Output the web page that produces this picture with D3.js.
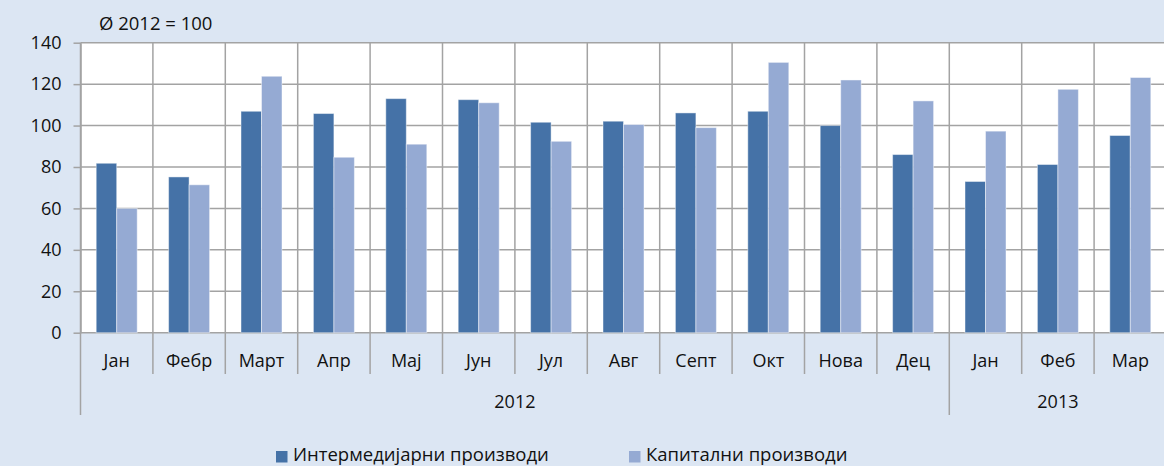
<!DOCTYPE html>
<html>
<head>
<meta charset="utf-8">
<script src="https://cdn.jsdelivr.net/npm/d3@7"></script>
<style>
  body { margin: 0; background: #dce6f3; }
  svg { display: block; font-family: "Open Sans", "Noto Sans", sans-serif; }
</style>
</head>
<body>
<svg id="chart"></svg>
<script>
// months on the x axis (two year groups)
var months = ["Јан", "Фебр", "Март", "Апр", "Мај", "Јун", "Јул", "Авг", "Септ", "Окт", "Нова", "Дец", "Јан", "Феб", "Мар"];
var yearLabels = ["2012", "2013"];
var yearSpans = [12, 3];

var seriesNames = ["Интермедијарни производи", "Капитални производи"];
var intermediate = [81.8, 75.2, 106.9, 105.8, 113, 112.5, 101.6, 102.1, 106.1, 106.9, 100, 86, 73, 81.2, 95.2];
var capital = [60, 71.4, 123.8, 84.7, 91, 111, 92.4, 100.5, 99, 130.5, 122, 111.9, 97.3, 117.5, 123.2];

var yTicks = [0, 20, 40, 60, 80, 100, 120, 140];
var subtitle = "Ø 2012 = 100";

var colors = ["#4572a7", "#95aad3"];
var gridColor = "#a3a3a3";

var screen = {width: 1164, height: 466};
var plot = {left: 80.5, right: 1166.5, top: 42.7, bottom: 332.7};

var svg = d3.select("#chart")
    .attr("width", screen.width)
    .attr("height", screen.height);

svg.append("rect")
    .attr("width", screen.width)
    .attr("height", screen.height)
    .attr("fill", "#dce6f3");

var xScale = d3.scaleBand()
    .domain(d3.range(months.length))
    .range([plot.left, plot.right]);

var xInner = d3.scaleBand()
    .domain([0, 1])
    .range([0, xScale.bandwidth()])
    .paddingOuter(0.766);

var yScale = d3.scaleLinear()
    .domain([0, 140])
    .range([plot.bottom, plot.top]);

// white plot area
svg.append("rect")
    .attr("x", plot.left)
    .attr("y", plot.top)
    .attr("width", plot.right - plot.left)
    .attr("height", plot.bottom - plot.top)
    .attr("fill", "#ffffff");

// horizontal gridlines
svg.append("g")
    .selectAll("line")
    .data(yTicks)
    .enter()
    .append("line")
    .attr("x1", plot.left)
    .attr("x2", plot.right)
    .attr("y1", function(d) { return yScale(d); })
    .attr("y2", function(d) { return yScale(d); })
    .attr("stroke", gridColor)
    .attr("stroke-width", 1.5);

// vertical category separators, longer where a year group starts
var groupStarts = [0];
yearSpans.forEach(function(s, i) { groupStarts.push(groupStarts[i] + s); });

svg.append("g")
    .selectAll("line")
    .data(d3.range(months.length))
    .enter()
    .append("line")
    .attr("x1", function(i) { return xScale(i); })
    .attr("x2", function(i) { return xScale(i); })
    .attr("y1", plot.top)
    .attr("y2", function(i) { return groupStarts.indexOf(i) >= 0 ? 415 : 374; })
    .attr("stroke", gridColor)
    .attr("stroke-width", 1.5);

// bars
var seriesData = [intermediate, capital];
seriesData.forEach(function(values, s)
{
    svg.append("g")
        .selectAll("rect")
        .data(values)
        .enter()
        .append("rect")
        .attr("x", function(v, i) { return xScale(i) + xInner(s); })
        .attr("y", function(v) { return yScale(v); })
        .attr("width", xInner.bandwidth())
        .attr("height", function(v) { return yScale(0) - yScale(v); })
        .attr("fill", colors[s])
        .attr("stroke", "rgba(255,255,255,0.45)")
        .attr("stroke-width", 1);
});

// y axis
var yAxis = svg.append("g")
    .attr("transform", "translate(" + plot.left + ",0)")
    .call(d3.axisLeft(yScale).tickValues(yTicks).tickSize(7).tickPadding(12).tickSizeOuter(0));
yAxis.select(".domain").attr("stroke", gridColor).attr("stroke-width", 1.5);
yAxis.selectAll(".tick line").attr("stroke", gridColor).attr("stroke-width", 1.5);
yAxis.selectAll(".tick text")
    .attr("font-size", 18)
    .attr("font-family", "Open Sans")
    .attr("fill", "#111");

// month labels
svg.append("g")
    .selectAll("text")
    .data(months)
    .enter()
    .append("text")
    .attr("x", function(m, i) { return xScale(i) + xScale.bandwidth() / 2; })
    .attr("y", 361)
    .attr("dy", "0.35em")
    .attr("text-anchor", "middle")
    .attr("font-size", 18)
    .attr("fill", "#111")
    .text(function(m) { return m; });

// year labels
svg.append("g")
    .selectAll("text")
    .data(yearLabels)
    .enter()
    .append("text")
    .attr("x", function(y, i)
    {
        var a = xScale(groupStarts[i]);
        var b = groupStarts[i + 1] < months.length ? xScale(groupStarts[i + 1]) : plot.right;
        return (a + b) / 2;
    })
    .attr("y", 402)
    .attr("dy", "0.35em")
    .attr("text-anchor", "middle")
    .attr("font-size", 18)
    .attr("fill", "#111")
    .text(function(y) { return y; });

// subtitle
svg.append("text")
    .attr("x", 99)
    .attr("y", 24)
    .attr("dy", "0.35em")
    .attr("font-size", 18.5)
    .attr("fill", "#111")
    .text(subtitle);

// legend
var legendX = [276, 629];
var legend = svg.append("g")
    .selectAll("g")
    .data(seriesNames)
    .enter()
    .append("g")
    .attr("transform", function(d, i) { return "translate(" + legendX[i] + ",455)"; });

legend.append("rect")
    .attr("x", 0)
    .attr("y", -4)
    .attr("width", 11.5)
    .attr("height", 11.5)
    .attr("fill", function(d, i) { return colors[i]; });

legend.append("text")
    .attr("x", 17)
    .attr("y", 0)
    .attr("dy", "0.35em")
    .attr("font-size", 18.5)
    .attr("fill", "#111")
    .text(function(d) { return d; });
</script>
</body>
</html>
